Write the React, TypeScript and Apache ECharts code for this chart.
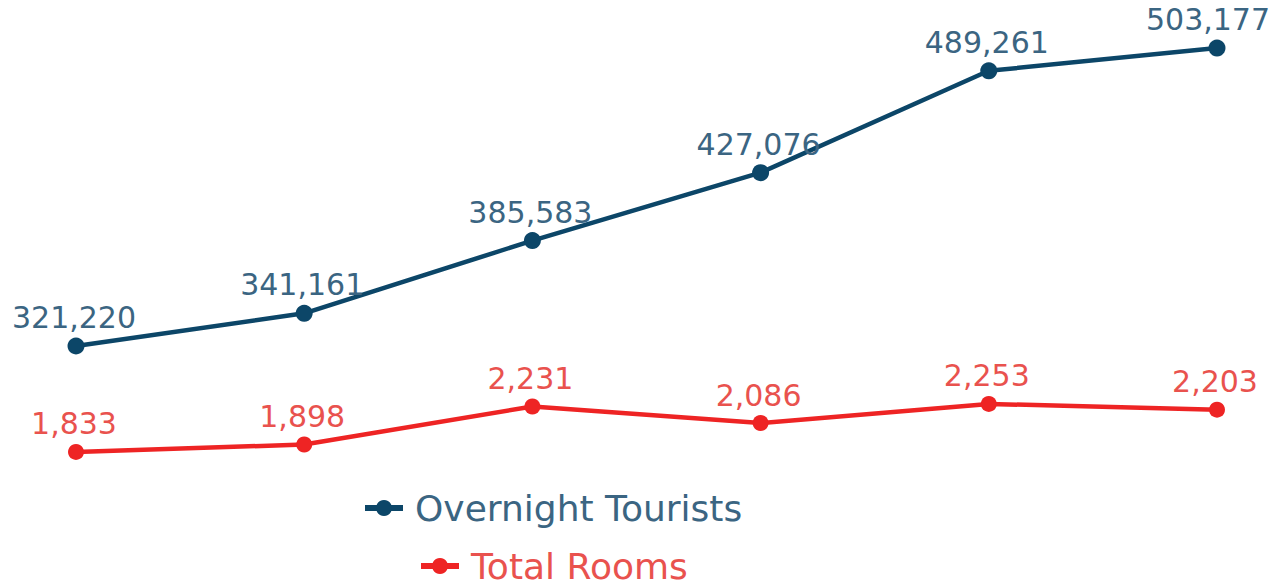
import React, { useEffect, useRef } from "react";
import * as echarts from "echarts";

const categories = ["2018", "2019", "2020", "2021", "2022", "2023"];
const overnightTourists = [321220, 341161, 385583, 427076, 489261, 503177];
const totalRooms = [1833, 1898, 2231, 2086, 2253, 2203];

const BLUE = "#0c4668";
const BLUE_TEXT = "#3b6582";
const RED = "#ee2424";
const RED_TEXT = "#e9524e";
const FONT = "DejaVu Sans";

const fmt = (v: number) => v.toLocaleString("en-US");

export default function App() {
  const ref = useRef<HTMLDivElement>(null);
  useEffect(() => {
    if (!ref.current) return;
    const chart = echarts.init(ref.current, undefined, { renderer: "svg" });
    const legendCommon = {
      itemWidth: 38,
      itemHeight: 20,
      padding: 0,
      lineStyle: { width: 6 },
      textStyle: { fontFamily: FONT, fontSize: 36, padding: [0, 0, 0, 7] },
    };
    const last = overnightTourists.length - 1;
    chart.setOption({
      animation: false,
      grid: { left: 76, right: 68, top: 10, height: 460 },
      xAxis: {
        type: "category",
        data: categories,
        boundaryGap: false,
        show: false,
      },
      yAxis: [
        { type: "value", min: 245500, max: 526400, show: false },
        { type: "value", min: 1675, max: 5700, show: false },
      ],
      legend: [
        {
          ...legendCommon,
          data: [{ name: "Overnight Tourists", textStyle: { color: BLUE_TEXT } }],
          left: 362,
          top: 490,
        },
        {
          ...legendCommon,
          data: [{ name: "Total Rooms", textStyle: { color: RED_TEXT } }],
          left: 418,
          top: 548,
        },
      ],
      series: [
        {
          name: "Overnight Tourists",
          type: "line",
          yAxisIndex: 0,
          data: overnightTourists.map((v, i) =>
            i === last ? { value: v, label: { offset: [-9, 0] } } : v
          ),
          symbol: "circle",
          symbolSize: 17,
          lineStyle: { color: BLUE, width: 4.5 },
          itemStyle: { color: BLUE },
          label: {
            show: true,
            position: "top",
            distance: 5,
            color: BLUE_TEXT,
            fontFamily: FONT,
            fontSize: 30,
            offset: [-2, 0],
            formatter: (p: any) => fmt(p.value),
          },
        },
        {
          name: "Total Rooms",
          type: "line",
          yAxisIndex: 1,
          data: totalRooms,
          symbol: "circle",
          symbolSize: 16,
          lineStyle: { color: RED, width: 4.5 },
          itemStyle: { color: RED },
          label: {
            show: true,
            position: "top",
            distance: 5,
            color: RED_TEXT,
            fontFamily: FONT,
            fontSize: 30,
            offset: [-2, 0],
            formatter: (p: any) => fmt(p.value),
          },
        },
      ],
    });
    return () => chart.dispose();
  }, []);
  return <div ref={ref} style={{ width: 1285, height: 587, position: "absolute", left: 0, top: 0 }} />;
}
